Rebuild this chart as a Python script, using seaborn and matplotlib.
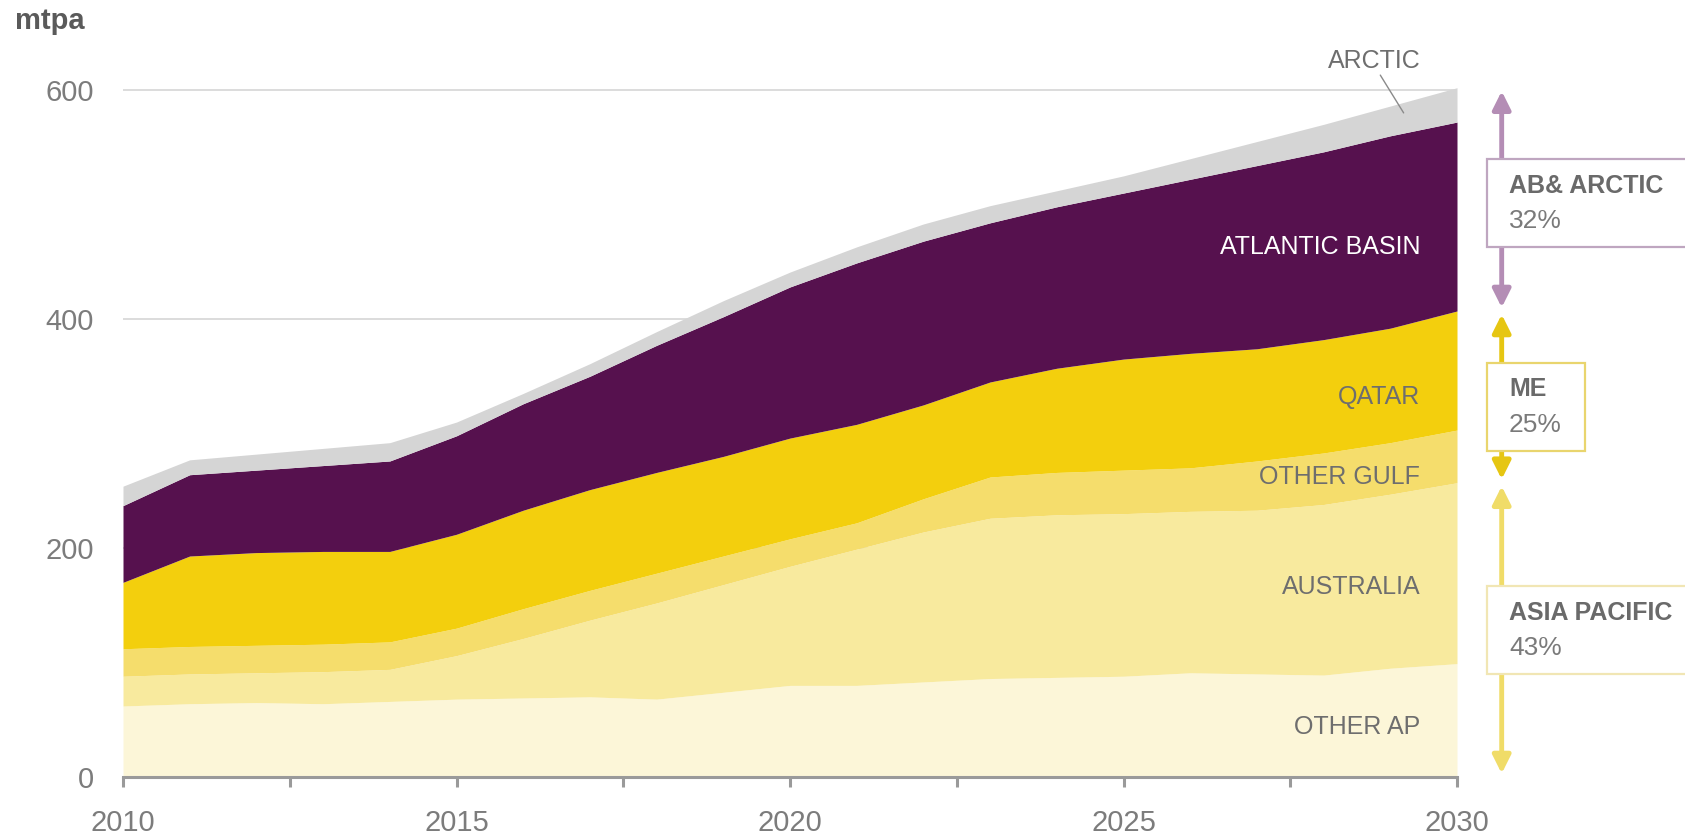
import numpy as np
import pandas as pd
import seaborn as sns
import matplotlib.pyplot as plt
from matplotlib.patches import Rectangle

# LNG supply capacity by source, million tonnes per annum
years = list(range(2010, 2031))
other_ap = [62, 64, 65, 64, 66, 68, 69, 70, 68, 74, 80, 80, 83, 86, 87, 88, 91, 90, 89, 95, 99]
australia = [26, 26, 26, 28, 28, 38, 52, 67, 84, 94, 104, 119, 131, 140, 142, 142, 141, 143, 149, 152, 158]
other_gulf = [24, 24, 24, 24, 24, 24, 26, 26, 26, 25, 24, 23, 29, 36, 37, 38, 38, 43, 45, 45, 46]
qatar = [58, 79, 81, 81, 79, 82, 86, 88, 88, 87, 88, 86, 82, 83, 91, 97, 100, 98, 99, 100, 104]
atlantic_basin = [67, 71, 72, 75, 79, 86, 93, 99, 111, 122, 132, 141, 143, 139, 141, 145, 152, 160, 164, 168, 165]
arctic = [17, 13, 14, 15, 16, 12, 9, 11, 12, 14, 13, 14, 15, 15, 14, 15, 18, 21, 24, 26, 30]

series_names = ["OTHER AP", "AUSTRALIA", "OTHER GULF", "QATAR", "ATLANTIC BASIN", "ARCTIC"]
series_colors = ["#fcf6d8", "#f8ea9e", "#f5dd6c", "#f3cf0d", "#56114e", "#d5d5d5"]
yticks = [0, 200, 400, 600]
xticks_major = [2010, 2015, 2020, 2025, 2030]

df = pd.DataFrame({
    "year": years,
    "OTHER AP": other_ap,
    "AUSTRALIA": australia,
    "OTHER GULF": other_gulf,
    "QATAR": qatar,
    "ATLANTIC BASIN": atlantic_basin,
    "ARCTIC": arctic,
})

sns.set_theme(style="white")
plt.rcParams["font.family"] = ["Liberation Sans", "DejaVu Sans"]

fig = plt.figure(figsize=(16.85, 8.39), dpi=100)
W, H = 1685, 839
y0_px, px_per_unit = 777, 1.145
ytop = 620
ax = fig.add_axes([123 / W, 1 - y0_px / H, (1457 - 123) / W, ytop * px_per_unit / H])

for yv in yticks[1:]:
    ax.axhline(yv, color="#dcdcdc", lw=1.4, zorder=0)

ax.stackplot(df["year"], *[df[n] for n in series_names], colors=series_colors,
             linewidth=0, zorder=2)

ax.set_xlim(2010, 2030)
ax.set_ylim(0, ytop)
ax.set_yticks(yticks)
ax.set_xticks(xticks_major)
ax.set_xticks([2012.5, 2017.5, 2022.5, 2027.5], minor=True)

for s in ["left", "right", "top"]:
    ax.spines[s].set_visible(False)
ax.spines["bottom"].set_color("#9a9a9a")
ax.spines["bottom"].set_linewidth(2.2)
ax.spines["bottom"].set_zorder(3)

ax.tick_params(axis="y", length=0, pad=21, labelsize=21, labelcolor="#7c7c7c")
ax.tick_params(axis="x", which="both", direction="out", length=7, width=2.2,
               color="#9a9a9a", bottom=True)
ax.tick_params(axis="x", which="major", pad=16, labelsize=21, labelcolor="#7c7c7c")
ax.set_xlabel("")
ax.set_ylabel("")

fig.text(0.009, 1 - 21 / H, "mtpa", fontsize=21, fontweight="bold", color="#5a5a5a",
         va="center", ha="left")

# Series labels inside the bands
lab_x = 2029.45
label_specs = [
    ("ATLANTIC BASIN", 463, "white"),
    ("QATAR", 332, "#6e6e6e"),
    ("OTHER GULF", 262, "#6e6e6e"),
    ("AUSTRALIA", 166, "#6e6e6e"),
    ("OTHER AP", 44, "#6e6e6e"),
]
for txt, yv, col in label_specs:
    ax.text(lab_x, yv, txt, ha="right", va="center", fontsize=18, color=col, zorder=5)

ax.text(2028.76, 625, "ARCTIC", ha="center", va="center", fontsize=18, color="#6e6e6e",
        clip_on=False, zorder=5)
ax.plot([2028.85, 2029.2], [613, 580], color="#8a8a8a", lw=1, clip_on=False, zorder=5)

# Regional share brackets for 2030
last = df.iloc[-1]
total = last[series_names].sum()
ap_top = last["OTHER AP"] + last["AUSTRALIA"]
me_top = ap_top + last["OTHER GULF"] + last["QATAR"]
groups = [
    ("AB& ARCTIC", me_top, total, "#b48db5", "#bfa6c0", (540, 463), 2033.6),
    ("ME", ap_top, me_top, "#e6c612", "#e9d56e", (362, 285), 2031.92),
    ("ASIA PACIFIC", 0, ap_top, "#f0dc68", "#f1e6b4", (167, 90), 2033.6),
]
arrow_x = 2030.67
box_x0 = 2030.45
gap = 3
for name, lo, hi, acol, bcol, (btop, bbot), bx1 in groups:
    share = round(100 * (hi - lo) / total)
    ax.annotate("", xy=(arrow_x, hi - gap), xytext=(arrow_x, lo + gap),
                arrowprops=dict(arrowstyle="<|-|>,head_length=0.9,head_width=0.45",
                                color=acol, lw=3.5, shrinkA=0, shrinkB=0),
                annotation_clip=False, zorder=4)
    ax.add_patch(Rectangle((box_x0, bbot), bx1 - box_x0, btop - bbot, facecolor="white",
                           edgecolor=bcol, lw=1.6, clip_on=False, zorder=6))
    mid = (btop + bbot) / 2
    ax.text(box_x0 + 0.33, mid + 15, name, ha="left", va="center", fontsize=18,
            fontweight="bold", color="#6a6a6a", clip_on=False, zorder=7)
    ax.text(box_x0 + 0.33, mid - 16, f"{share}%", ha="left", va="center", fontsize=19,
            color="#7a7a7a", clip_on=False, zorder=7)

fig.savefig("out.png", dpi=100, facecolor="white")
